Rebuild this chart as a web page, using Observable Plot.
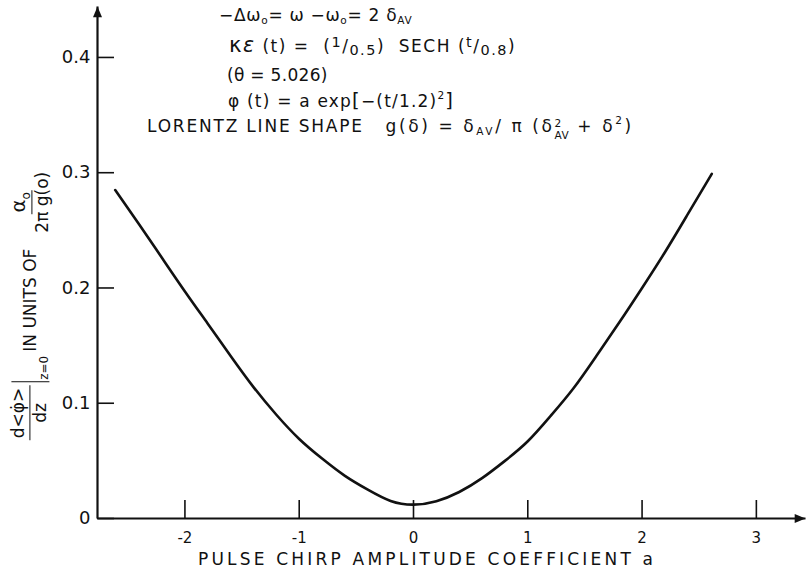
<!DOCTYPE html>
<html>
<head>
<meta charset="utf-8">
<script src="https://cdn.jsdelivr.net/npm/d3@7"></script>
<script src="https://cdn.jsdelivr.net/npm/@observablehq/plot@0.6"></script>
<style>
  body { margin: 0; background: #fff; }
  #wrap { position: relative; width: 806px; height: 573px; font-family: "DejaVu Sans", sans-serif; color: #111; }
  #wrap svg { position: absolute; left: 0; top: 0; }
  .note { position: absolute; white-space: nowrap; font-size: 17px; line-height: 1; height: 1em; transform: translateY(-50%); }
  .note sub, .ylab sub { font-size: 0.62em; vertical-align: -0.35em; line-height: 0; }
  .note sup { font-size: 0.62em; vertical-align: 0.7em; line-height: 0; }
  .up { font-size: 0.85em; vertical-align: 0.3em; }
  .dn { font-size: 0.85em; vertical-align: -0.25em; }
  .brk { font-size: 1.15em; vertical-align: -0.05em; line-height: 0; }
  .stack { display: inline-flex; flex-direction: column; font-size: 0.62em; line-height: 1.15; vertical-align: 0.5em; letter-spacing: 0.5px; }
  .ylab { position: absolute; white-space: nowrap; font-size: 17px; display: flex; align-items: center;
          transform: translate(-50%, -50%) rotate(-90deg); }
  .frac { display: inline-flex; flex-direction: column; align-items: center; line-height: 1.1; }
  .frac > span:first-child { border-bottom: 1.6px solid #111; padding: 0 2px 1px; }
  .frac > span:last-child { padding-top: 1px; }
  .bar { display: inline-block; border-left: 1.6px solid #111; height: 38px; margin-left: 3px; position: relative; width: 24px; }
  .bar span { position: absolute; left: 2px; bottom: -2px; font-size: 0.7em; }
</style>
</head>
<body>
<div id="wrap"></div>
<script>
// Frequency-shift rate vs. pulse chirp amplitude coefficient a
const chirpA = [-2.61, -2.4, -2.2, -2.0, -1.8, -1.6, -1.4, -1.2, -1.0, -0.8, -0.6, -0.4, -0.2, 0.0,
                0.2, 0.4, 0.6, 0.8, 1.0, 1.2, 1.4, 1.6, 1.8, 2.0, 2.2, 2.4, 2.61];
const shiftRate = [0.285, 0.255, 0.226, 0.197, 0.169, 0.141, 0.114, 0.090, 0.069, 0.052, 0.037, 0.025, 0.0152, 0.012,
                   0.015, 0.023, 0.035, 0.050, 0.067, 0.089, 0.113, 0.141, 0.170, 0.200, 0.231, 0.264, 0.299];

const xTicks = [-2, -1, 0, 1, 2, 3];
const xTickLabels = ["-2", "-1", "0", "1", "2", "3"];
const yTicks = [0, 0.1, 0.2, 0.3, 0.4];
const yTickLabels = ["0", "0.1", "0.2", "0.3", "0.4"];
const xDomain = [-2.765, 3.43];
const yDomain = [0, 0.4442];
const xTitle = "PULSE CHIRP AMPLITUDE COEFFICIENT a";

const curve = chirpA.map((a, i) => ({a, v: shiftRate[i]}));
const axisSegments = [
  {x1: xDomain[0], y1: yDomain[0], x2: xDomain[1], y2: yDomain[0]},
  {x1: xDomain[0], y1: yDomain[0], x2: xDomain[0], y2: yDomain[1]}
];

const chart = Plot.plot({
  width: 806,
  height: 573,
  marginLeft: 97,
  marginRight: 1,
  marginTop: 6,
  marginBottom: 55,
  style: {fontFamily: "DejaVu Sans", color: "#111", background: "transparent", overflow: "visible"},
  x: {domain: xDomain, label: null},
  y: {domain: yDomain, label: null},
  marks: [
    Plot.axisX({ticks: xTicks, tickSize: -18, text: null, strokeWidth: 1.6, label: null}),
    Plot.axisX({ticks: xTicks, tickSize: 0, tickPadding: 14, fontSize: 15, label: null,
                tickFormat: d => xTickLabels[xTicks.indexOf(d)]}),
    Plot.axisY({ticks: yTicks, tickSize: -17, text: null, strokeWidth: 1.6, label: null}),
    Plot.axisY({ticks: yTicks, tickSize: 0, tickPadding: 7, fontSize: 18, label: null,
                tickFormat: d => yTickLabels[yTicks.indexOf(d)]}),
    Plot.link(axisSegments, {x1: "x1", y1: "y1", x2: "x2", y2: "y2", stroke: "#111", strokeWidth: 2.2}),
    Plot.line(curve, {x: "a", y: "v", curve: "natural", stroke: "#111", strokeWidth: 2.6}),
    Plot.text([xTitle], {text: d => d, frameAnchor: "bottom", dx: -26, dy: 46, fontSize: 17, fill: "#111"})
  ]
});

// filled arrowheads on both axis lines, spaced-out axis title
const svg = d3.select(chart);
svg.append("defs").append("marker")
  .attr("id", "axis-tip").attr("viewBox", "0 0 12 10").attr("refX", 12).attr("refY", 5)
  .attr("markerWidth", 12).attr("markerHeight", 9).attr("markerUnits", "userSpaceOnUse").attr("orient", "auto")
  .append("path").attr("d", "M0,0L12,5L0,10Z").attr("fill", "#111");
svg.selectAll('g[aria-label="link"] path').attr("marker-end", "url(#axis-tip)");
svg.selectAll('g[aria-label="text"] text').attr("textLength", 455).attr("lengthAdjust", "spacing");

const wrap = document.getElementById("wrap");
wrap.appendChild(chart);

// parameter block above the curve
wrap.insertAdjacentHTML("beforeend", `
<div class="note" style="left:219px;top:15px;letter-spacing:0.7px">−Δω<sub>o</sub>= ω −ω<sub>o</sub>= 2 δ<sub>AV</sub></div>
<div class="note" style="left:229px;top:42px;letter-spacing:1.5px"><span style="font-size:1.25em">κ</span><i style="font-size:1.2em">ε</i> (t) = &nbsp;(<span class="up">1</span>/<span class="dn">0.5</span>) &nbsp;SECH (<span class="up">t</span>/<span class="dn">0.8</span>)</div>
<div class="note" style="left:227px;top:75px;letter-spacing:0.3px">(θ = 5.026)</div>
<div class="note" style="left:228px;top:101px;letter-spacing:1.2px">φ (t) = a exp<span class="brk">[</span>−(t/1.2)<sup>2</sup><span class="brk">]</span></div>
<div class="note" style="left:147px;top:125px;letter-spacing:1.8px">LORENTZ LINE SHAPE&nbsp;&nbsp;&nbsp;<span style="letter-spacing:2.6px">g(δ) = δ<sub>AV</sub>/ π (δ<span class="stack"><span>2</span><span>AV</span></span> + δ<sup>2</sup>)</span></div>
<div class="ylab" style="left:30px;top:306px">
  <span class="frac"><span>d&lt;φ̇&gt;</span><span>dz</span></span>
  <span class="bar"><span>z=0</span></span>
  <span style="margin:0 16px 0 6px">IN UNITS OF</span>
  <span class="frac"><span style="font-size:1.15em">α<sub>o</sub></span><span>2π g(o)</span></span>
</div>
`);
</script>
</body>
</html>
